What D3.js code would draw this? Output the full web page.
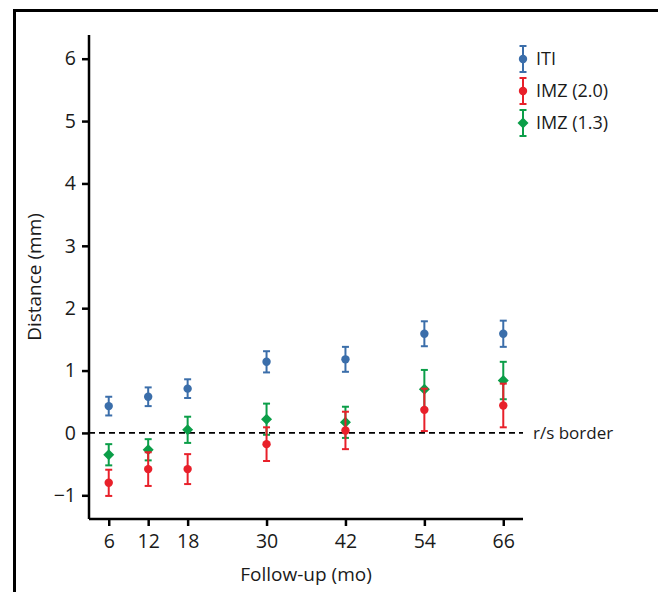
<!DOCTYPE html>
<html>
<head>
<meta charset="utf-8">
<script src="https://cdn.jsdelivr.net/npm/d3@7"></script>
<style>
  body { margin: 0; background: #fff; }
  text { font-family: "Open Sans", Lato, sans-serif; fill: #1a1a1a; }
</style>
</head>
<body>
<div class="chart"></div>
<script>
// Chart data
var months = [6, 12, 18, 30, 42, 54, 66];
var itiMean = [0.43, 0.58, 0.71, 1.14, 1.18, 1.59, 1.59];
var itiErr  = [0.15, 0.15, 0.15, 0.17, 0.20, 0.20, 0.21];
var imz20Mean = [-0.80, -0.58, -0.58, -0.18, 0.04, 0.37, 0.44];
var imz20Err  = [0.21, 0.27, 0.24, 0.27, 0.30, 0.34, 0.35];
var imz13Mean = [-0.35, -0.27, 0.05, 0.22, 0.17, 0.70, 0.84];
var imz13Err  = [0.17, 0.17, 0.21, 0.25, 0.25, 0.31, 0.30];
var xTicks = [6, 12, 18, 30, 42, 54, 66];
var yTicks = [-1, 0, 1, 2, 3, 4, 5, 6];

var series = [
    { name: "ITI", mean: itiMean, err: itiErr, color: "#3b6eaa", shape: "circle" },
    { name: "IMZ (1.3)", mean: imz13Mean, err: imz13Err, color: "#0b9e48", shape: "diamond" },
    { name: "IMZ (2.0)", mean: imz20Mean, err: imz20Err, color: "#e8202a", shape: "circle" }
];
var legendOrder = ["ITI", "IMZ (2.0)", "IMZ (1.3)"];

var svgWidth = 658;
var svgHeight = 592;
var margin = { top: 35, left: 89, right: 135, bottom: 73 };
var width = svgWidth - margin.left - margin.right;
var height = svgHeight - margin.top - margin.bottom;

var svg = d3.select(".chart")
    .append("svg")
    .attr("width", svgWidth)
    .attr("height", svgHeight);

// outer frame (runs off the right and bottom)
svg.append("path")
    .attr("d", "M14.5,700 L14.5,10.5 L700,10.5")
    .attr("fill", "none")
    .attr("stroke", "#000")
    .attr("stroke-width", 3);

var chartGroup = svg.append("g")
    .attr("transform", `translate(${margin.left}, ${margin.top})`);

var x = d3.scaleLinear().domain([3, 69]).range([0, width]);
var y = d3.scaleLinear().domain([-1.38, 6.38]).range([height, 0]);

// axes
var bottomAxis = d3.axisBottom(x).tickValues(xTicks).tickSize(7).tickPadding(8);
var leftAxis = d3.axisLeft(y).tickValues(yTicks).tickSize(7).tickPadding(6)
    .tickFormat(d => d < 0 ? "\u2212" + Math.abs(d) : d);

var gx = chartGroup.append("g")
    .attr("transform", `translate(0, ${height})`)
    .call(bottomAxis);
var gy = chartGroup.append("g").call(leftAxis);

[gx, gy].forEach(function(g) {
    g.select(".domain").attr("stroke", "#000").attr("stroke-width", 2.5)
        .attr("d", g === gx ? `M0,0H${width}` : `M0,0V${height}`);
    g.selectAll(".tick line").attr("stroke", "#000").attr("stroke-width", 2.5);
    g.selectAll(".tick text").style("font-size", "19.5px").attr("fill", "#1a1a1a");
});

// r/s border line
chartGroup.append("line")
    .attr("x1", 0).attr("x2", width)
    .attr("y1", y(0)).attr("y2", y(0))
    .attr("stroke", "#000")
    .attr("stroke-width", 1.8)
    .attr("stroke-dasharray", "6,4");

chartGroup.append("text")
    .attr("x", width + 10)
    .attr("y", y(0) + 6)
    .style("font-size", "17px")
    .text("r/s border");

function drawMarker(g, shape, cx, cy, color) {
    if (shape === "diamond") {
        g.append("path")
            .attr("d", `M${cx},${cy - 5.5}L${cx + 5.5},${cy}L${cx},${cy + 5.5}L${cx - 5.5},${cy}Z`)
            .attr("fill", color);
    } else {
        g.append("circle")
            .attr("cx", cx).attr("cy", cy).attr("r", 4.2)
            .attr("fill", color);
    }
}

function drawErrBar(g, cx, yTop, yBot, color) {
    g.append("line").attr("x1", cx).attr("x2", cx).attr("y1", yTop).attr("y2", yBot)
        .attr("stroke", color).attr("stroke-width", 2);
    [yTop, yBot].forEach(function(yy) {
        g.append("line").attr("x1", cx - 3.5).attr("x2", cx + 3.5).attr("y1", yy).attr("y2", yy)
            .attr("stroke", color).attr("stroke-width", 2);
    });
}

// points with error bars
series.forEach(function(s) {
    var g = chartGroup.append("g");
    months.forEach(function(m, i) {
        var cx = x(m);
        drawErrBar(g, cx, y(s.mean[i] + s.err[i]), y(s.mean[i] - s.err[i]), s.color);
        drawMarker(g, s.shape, cx, y(s.mean[i]), s.color);
    });
});

// legend
var legend = svg.append("g").attr("transform", "translate(523, 59)");
legendOrder.forEach(function(name, i) {
    var s = series.find(d => d.name === name);
    var g = legend.append("g").attr("transform", `translate(0, ${i * 32})`);
    drawErrBar(g, 0, -13, 13, s.color);
    drawMarker(g, s.shape, 0, 0, s.color);
    g.append("text")
        .attr("x", 13)
        .attr("y", 6)
        .style("font-size", "18px")
        .text(name);
});

// axis labels
chartGroup.append("text")
    .attr("transform", "rotate(-90)")
    .attr("x", -height / 2)
    .attr("y", -48)
    .attr("text-anchor", "middle")
    .style("font-size", "19px")
    .text("Distance (mm)");

chartGroup.append("text")
    .attr("x", width / 2)
    .attr("y", height + 62)
    .attr("text-anchor", "middle")
    .style("font-size", "19px")
    .text("Follow-up (mo)");
</script>
</body>
</html>
